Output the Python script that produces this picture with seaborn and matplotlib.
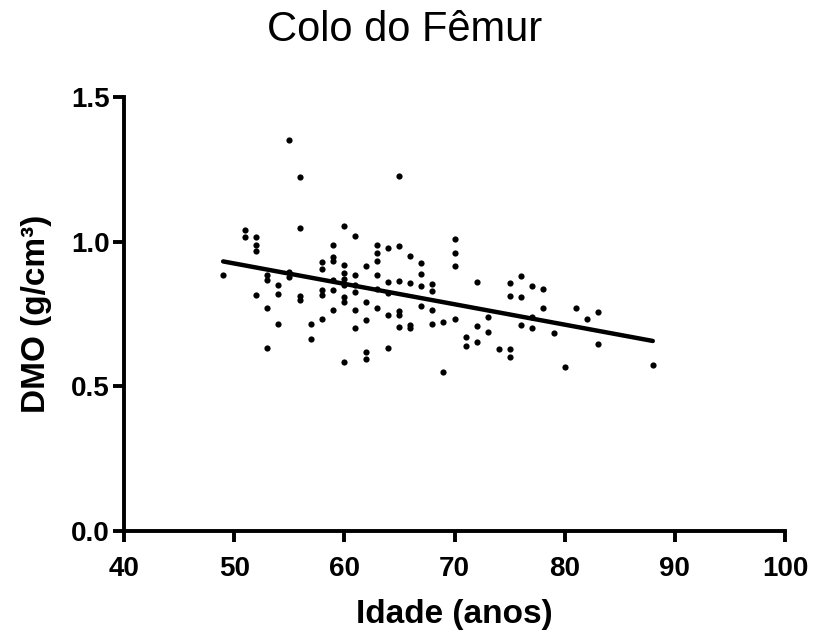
import matplotlib
matplotlib.use("Agg")
import matplotlib.pyplot as plt
import seaborn as sns
import numpy as np
import pandas as pd

# Data (age, bone mineral density)
idade = [49,
         51, 51,
         52, 52, 52, 52,
         53, 53, 53, 53,
         54, 54, 54,
         55, 55, 55,
         56, 56, 56, 56,
         57, 57,
         58, 58, 58, 58, 58,
         59, 59, 59, 59, 59, 59,
         60, 60, 60, 60, 60, 60, 60, 60,
         61, 61, 61, 61, 61, 61,
         62, 62, 62, 62, 62,
         63, 63, 63, 63, 63, 63,
         64, 64, 64, 64, 64,
         65, 65, 65, 65, 65, 65,
         66, 66, 66, 66,
         67, 67, 67, 67,
         68, 68, 68, 68,
         69, 69,
         70, 70, 70, 70,
         71, 71,
         72, 72, 72,
         73, 73,
         74,
         75, 75, 75, 75,
         76, 76, 76,
         77, 77, 77,
         78, 78,
         79,
         80,
         81,
         82,
         83, 83,
         88]
dmo = [0.885,
       1.039, 1.017,
       1.017, 0.99, 0.968, 0.817,
       0.885, 0.868, 0.77, 0.632,
       0.85, 0.82, 0.714,
       1.353, 0.895, 0.877,
       1.225, 1.048, 0.813, 0.80,
       0.714, 0.663,
       0.929, 0.905, 0.834, 0.817, 0.733,
       0.99, 0.947, 0.934, 0.867, 0.834, 0.763,
       1.054, 0.919, 0.891, 0.87, 0.851, 0.809, 0.791, 0.583,
       1.021, 0.886, 0.85, 0.825, 0.763, 0.70,
       0.917, 0.791, 0.73, 0.62, 0.595,
       0.99, 0.96, 0.934, 0.885, 0.836, 0.77,
       0.977, 0.861, 0.824, 0.746, 0.632,
       1.227, 0.984, 0.864, 0.76, 0.746, 0.705,
       0.952, 0.858, 0.711, 0.70,
       0.925, 0.889, 0.848, 0.779,
       0.852, 0.828, 0.763, 0.714,
       0.721, 0.55,
       1.009, 0.96, 0.917, 0.733,
       0.669, 0.638,
       0.861, 0.709, 0.653,
       0.738, 0.687,
       0.628,
       0.856, 0.813, 0.628, 0.601,
       0.883, 0.809, 0.711,
       0.848, 0.738, 0.702,
       0.836, 0.77,
       0.685,
       0.567,
       0.77,
       0.733,
       0.758, 0.648,
       0.575]

x_ticks = [40, 50, 60, 70, 80, 90, 100]
y_ticks = [0.0, 0.5, 1.0, 1.5]

df = pd.DataFrame({"Idade": idade, "DMO": dmo})

sns.set_style("ticks")
plt.rcParams['font.family'] = ['Liberation Sans', 'DejaVu Sans']
plt.rcParams['text.color'] = 'black'
plt.rcParams['axes.labelcolor'] = 'black'
plt.rcParams['xtick.color'] = 'black'
plt.rcParams['ytick.color'] = 'black'

fig = plt.figure(figsize=(8.14, 6.37), dpi=100)
ax = fig.add_axes([124/814, 1 - 531/637, (785-124)/814, (531-97)/637])

sns.regplot(data=df, x="Idade", y="DMO", ax=ax, ci=None, truncate=True,
            scatter_kws=dict(s=20, color="black", linewidths=0, alpha=1),
            line_kws=dict(color="black", lw=3.2))

ax.set_xlim(40, 100)
ax.set_ylim(0, 1.5)
ax.set_xticks(x_ticks)
ax.set_yticks(y_ticks)
ax.set_xticklabels([str(v) for v in x_ticks])
ax.set_yticklabels([f"{v:.1f}" for v in y_ticks])
for lab in ax.get_xticklabels() + ax.get_yticklabels():
    lab.set_fontweight("bold")
    lab.set_fontsize(20)
ax.tick_params(axis="both", direction="out", length=8, width=2.8)
ax.tick_params(axis="x", pad=10)
ax.tick_params(axis="y", pad=2)

for s in ["top", "right"]:
    ax.spines[s].set_visible(False)
for s in ["left", "bottom"]:
    ax.spines[s].set_linewidth(2.8)
    ax.spines[s].set_color("black")

ax.set_xlabel("Idade (anos)", fontsize=24, fontweight="bold", labelpad=12)
ax.set_ylabel("DMO (g/cm³)", fontsize=24, fontweight="bold", labelpad=14)
fig.text(0.497, 1 - 30/637, "Colo do Fêmur", fontsize=30, ha="center", va="center")

fig.savefig("out.png", dpi=100)
